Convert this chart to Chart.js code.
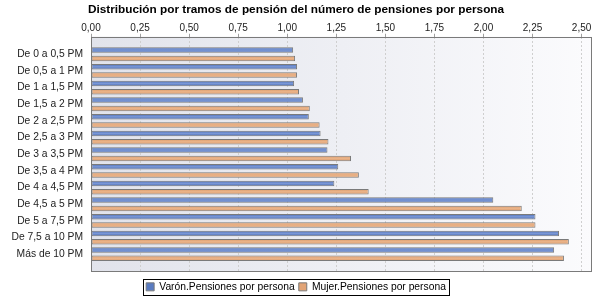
<!DOCTYPE html>
<html><head><meta charset="utf-8">
<script src="https://cdn.jsdelivr.net/npm/chart.js@4/dist/chart.umd.min.js"></script>
<style>html,body{margin:0;padding:0;background:#fff}#wrap{width:600px;height:300px}</style>
</head><body><div id="wrap"><canvas id="c" width="600" height="300"></canvas></div>
<script>
const chartTitle = 'Distribución por tramos de pensión del número de pensiones por persona';
const categories = ['De 0 a 0,5 PM','De 0,5 a 1 PM','De 1 a 1,5 PM','De 1,5 a 2 PM','De 2 a 2,5 PM','De 2,5 a 3 PM','De 3 a 3,5 PM','De 3,5 a 4 PM','De 4 a 4,5 PM','De 4,5 a 5 PM','De 5 a 7,5 PM','De 7,5 a 10 PM','Más de 10 PM'];
const seriesNames = ['Varón.Pensiones por persona','Mujer.Pensiones por persona'];
const varon = [1.03, 1.05, 1.035, 1.08, 1.11, 1.17, 1.205, 1.26, 1.24, 2.05, 2.265, 2.385, 2.36];
const mujer = [1.04, 1.05, 1.06, 1.115, 1.165, 1.21, 1.325, 1.365, 1.415, 2.195, 2.265, 2.435, 2.41];
const xTicks = [0, 0.25, 0.5, 0.75, 1, 1.25, 1.5, 1.75, 2, 2.25, 2.5];
const xMax = 2.553;

const FONT = 'Liberation Sans';

function barGradient(ctx, dsIndex, c1, c2) {
  const chart = ctx.chart;
  const ys = chart.scales.y;
  if (!ys || ctx.dataIndex === undefined || !chart.chartArea) return c1;
  const step = Math.abs(ys.getPixelForValue(1) - ys.getPixelForValue(0));
  const chunk = step / 2;
  const center = ys.getPixelForValue(ctx.dataIndex) + (dsIndex === 0 ? -chunk / 2 : chunk / 2);
  const h = chunk * 0.66;
  const g = chart.ctx.createLinearGradient(0, center - h / 2, 0, center + h / 2);
  g.addColorStop(0, c1);
  g.addColorStop(0.5, c2);
  g.addColorStop(1, c1);
  return g;
}

const decor = {
  id: 'decor',
  afterLayout(chart) {
    const lg = chart.legend;
    if (lg) { lg.top += 6; lg.bottom += 6; }
  },
  beforeDraw(chart) {
    const {ctx, chartArea: a} = chart;
    const g = ctx.createLinearGradient(a.left, 0, a.right, 0);
    g.addColorStop(0, '#e1e3eb');
    g.addColorStop(1, '#fbfbfd');
    ctx.save();
    ctx.fillStyle = g;
    ctx.fillRect(a.left, a.top, a.right - a.left, a.bottom - a.top);
    ctx.restore();
  },
  afterDraw(chart) {
    const {ctx, chartArea: a} = chart;
    ctx.save();
    ctx.strokeStyle = '#7a7a7a';
    ctx.lineWidth = 1;
    ctx.strokeRect(Math.round(a.left) + 0.5, Math.round(a.top) + 0.5, Math.round(a.right - a.left) - 1, Math.round(a.bottom - a.top) - 1);
    const hb = chart.legend && chart.legend.legendHitBoxes;
    if (hb && hb.length) {
      const first = hb[0], last = hb[hb.length - 1];
      const l = Math.round(first.left) - 3;
      const r = Math.round(last.left + last.width) + 3;
      const cy = first.top + first.height / 2;
      const t = Math.round(cy - 8);
      ctx.strokeStyle = '#000';
      ctx.strokeRect(l + 0.5, t + 0.5, r - l, 16);
    }
    ctx.restore();
  }
};

new Chart(document.getElementById('c'), {
  type: 'bar',
  data: {
    datasets: [
      {
        label: seriesNames[0],
        data: varon.map((v, i) => ({x: v, y: i})),
        backgroundColor: (ctx) => barGradient(ctx, 0, '#4a6cb4', '#7b98d6'),
        borderColor: '#7a7a7a',
        borderWidth: 1,
        borderSkipped: false,
        categoryPercentage: 1.0,
        barPercentage: 0.66
      },
      {
        label: seriesNames[1],
        data: mujer.map((v, i) => ({x: v, y: i})),
        backgroundColor: (ctx) => barGradient(ctx, 1, '#dc9a6a', '#eab48a'),
        borderColor: '#7a7a7a',
        borderWidth: 1,
        borderSkipped: false,
        categoryPercentage: 1.0,
        barPercentage: 0.66
      }
    ]
  },
  options: {
    indexAxis: 'y',
    responsive: false,
    devicePixelRatio: 1,
    animation: false,
    layout: {padding: {left: 0, right: 8, top: 0, bottom: 4}},
    scales: {
      x: {
        type: 'linear',
        position: 'top',
        min: 0,
        max: xMax,
        afterBuildTicks: (s) => { s.ticks = xTicks.map(v => ({value: v})); },
        afterFit: (s) => { s.height = 17.6; },
        ticks: {
          autoSkip: false,
          padding: 0,
          color: '#222',
          font: {family: FONT, size: 10},
          callback: (v) => Number(v).toFixed(2).replace('.', ',')
        },
        grid: {
          color: '#cfcfcf',
          lineWidth: 1,
          tickLength: 3,
          tickColor: '#a0a0a0',
          tickBorderDash: []
        },
        border: {display: false, dash: [2, 2]}
      },
      y: {
        type: 'linear',
        reverse: true,
        offset: false,
        min: -1.05,
        max: categories.length - 1 + 1.05,
        afterBuildTicks: (s) => { s.ticks = categories.map((c, i) => ({value: i})); },
        afterFit: (s) => { s.width = 91; },
        ticks: {
          autoSkip: false,
          padding: 8,
          color: '#222',
          font: {family: FONT, size: 10.3},
          callback: (v) => categories[v]
        },
        grid: {display: false, drawTicks: false, offset: false},
        border: {display: false}
      }
    },
    plugins: {
      title: {
        display: true,
        text: chartTitle,
        color: '#000',
        font: {family: FONT, size: 11.8, weight: 'bold'},
        padding: {top: 3, bottom: 2}
      },
      legend: {
        position: 'bottom',
        labels: {
          boxWidth: 8,
          boxHeight: 8,
          padding: 4,
          color: '#222',
          font: {family: FONT, size: 10.3},
          generateLabels: (chart) => chart.data.datasets.map((d, i) => ({
            text: d.label,
            fillStyle: i === 0 ? '#5a7cc2' : '#e2a476',
            strokeStyle: '#7a7a7a',
            lineWidth: 1,
            datasetIndex: i,
            hidden: false
          }))
        }
      },
      tooltip: {enabled: false}
    }
  },
  plugins: [decor]
});
</script>
</body></html>
